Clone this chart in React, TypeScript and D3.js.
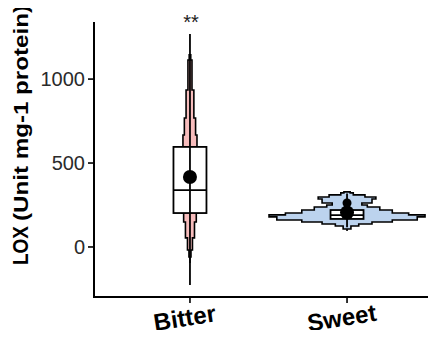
import React, { useEffect, useRef } from "react";
import * as d3 from "d3";

// groups on the x axis
const groups = ["Bitter", "Sweet"];
const fills = ["#f7bcbc", "#bcd3ee"];

// box summaries (LOX, Unit mg-1 protein)
const whiskerLow = [-226, 118];
const whiskerHigh = [1268, 318];
const q1 = [202, 167];
const median = [339, 190];
const q3 = [596, 220];
const means = [417, 205];
const extraPoints = [{ g: "Sweet", v: 262 }];

// violin outlines: value and relative density
const bitterValues = [1144, 1114, 935, 768, 667, 518, 202, 149, 54, -18, -60, -95];
const bitterDensity = [0.005, 0.01, 0.026, 0.05, 0.072, 0.09, 0.103, 0.081, 0.058, 0.032, 0.013, 0];
const sweetValues = [328, 322, 310, 298, 286, 262, 250, 238, 220, 202, 191, 179, 161, 149, 137, 125, 107, 95];
const sweetDensity = [0, 0.04, 0.08, 0.23, 0.37, 0.32, 0.19, 0.26, 0.42, 0.58, 0.79, 1.0, 0.9, 0.58, 0.32, 0.15, 0.05, 0];

const yTicks = [0, 500, 1000];

const App: React.FC = () => {
  const ref = useRef<HTMLDivElement>(null);

  useEffect(() => {
    const container = ref.current;
    if (!container) return;
    d3.select(container).selectAll("*").remove();

    const width = 436;
    const height = 338;
    const font = "'Liberation Sans', Arial, sans-serif";

    const svg = d3
      .select(container)
      .append("svg")
      .attr("width", width)
      .attr("height", height)
      .style("display", "block")
      .style("background", "#fff");

    const axisX = 94;
    const axisY = 297;

    const y = d3.scaleLinear().domain([-298, 1340]).range([297, 22]);
    const x = d3.scalePoint<string>().domain(groups).range([94, 443]).padding(0.611);
    const w = d3.scaleLinear().domain([0, 1]).range([0, 78]);

    // violins
    const violins = [
      { g: "Bitter", values: bitterValues, dens: bitterDensity },
      { g: "Sweet", values: sweetValues, dens: sweetDensity },
    ];
    violins.forEach((vl, i) => {
      const pts = vl.values.map((v, k) => ({ v, d: vl.dens[k] }));
      const cx = x(vl.g) || 0;
      const area = d3
        .area<{ v: number; d: number }>()
        .y((d) => y(d.v))
        .x0((d) => cx - w(d.d))
        .x1((d) => cx + w(d.d))
        .curve(d3.curveStepAfter);
      svg
        .append("path")
        .datum(pts)
        .attr("d", area)
        .attr("fill", fills[i])
        .attr("stroke", "#000")
        .attr("stroke-width", 1.6)
        .attr("stroke-linejoin", "miter");
    });

    // boxes
    const boxW = 33;
    groups.forEach((g, i) => {
      const cx = x(g) || 0;
      svg
        .append("rect")
        .attr("x", cx - boxW / 2)
        .attr("y", y(q3[i]))
        .attr("width", boxW)
        .attr("height", y(q1[i]) - y(q3[i]))
        .attr("fill", "#fff")
        .attr("stroke", "#000")
        .attr("stroke-width", 1.8);
      svg
        .append("line")
        .attr("x1", cx)
        .attr("x2", cx)
        .attr("y1", y(whiskerHigh[i]))
        .attr("y2", y(whiskerLow[i]))
        .attr("stroke", "#000")
        .attr("stroke-width", 1.8);
      svg
        .append("line")
        .attr("x1", cx - boxW / 2)
        .attr("x2", cx + boxW / 2)
        .attr("y1", y(median[i]))
        .attr("y2", y(median[i]))
        .attr("stroke", "#000")
        .attr("stroke-width", 1.8);
      svg
        .append("circle")
        .attr("cx", cx)
        .attr("cy", y(means[i]))
        .attr("r", 7)
        .attr("fill", "#000");
    });

    extraPoints.forEach((p) => {
      svg
        .append("circle")
        .attr("cx", x(p.g) || 0)
        .attr("cy", y(p.v))
        .attr("r", 4.5)
        .attr("fill", "#000");
    });

    // significance
    svg
      .append("text")
      .attr("x", (x("Bitter") || 0) + 1)
      .attr("y", 29)
      .attr("text-anchor", "middle")
      .style("font-family", font)
      .style("font-size", "20px")
      .attr("fill", "#222")
      .text("**");

    // axes
    svg
      .append("line")
      .attr("x1", axisX)
      .attr("x2", axisX)
      .attr("y1", 22)
      .attr("y2", axisY)
      .attr("stroke", "#000")
      .attr("stroke-width", 2);
    svg
      .append("line")
      .attr("x1", axisX - 1)
      .attr("x2", width)
      .attr("y1", axisY)
      .attr("y2", axisY)
      .attr("stroke", "#000")
      .attr("stroke-width", 2);

    yTicks.forEach((t) => {
      svg
        .append("line")
        .attr("x1", axisX - 6)
        .attr("x2", axisX)
        .attr("y1", y(t))
        .attr("y2", y(t))
        .attr("stroke", "#000")
        .attr("stroke-width", 1.6);
      svg
        .append("text")
        .attr("x", axisX - 9)
        .attr("y", y(t))
        .attr("dy", "0.36em")
        .attr("text-anchor", "end")
        .style("font-family", font)
        .style("font-size", "20px")
        .attr("fill", "#2a2a2a")
        .text(d3.format("d")(t));
    });

    groups.forEach((g) => {
      const cx = x(g) || 0;
      svg
        .append("line")
        .attr("x1", cx)
        .attr("x2", cx)
        .attr("y1", axisY)
        .attr("y2", axisY + 6)
        .attr("stroke", "#000")
        .attr("stroke-width", 1.6);
      svg
        .append("text")
        .attr("transform", `translate(${cx - 4},${axisY + 29}) rotate(-9)`)
        .attr("text-anchor", "middle")
        .style("font-family", font)
        .style("font-size", "24px")
        .style("font-weight", "bold")
        .attr("fill", "#000")
        .text(g);
    });

    // y title
    svg
      .append("text")
      .attr("transform", "translate(28,265) rotate(-90)")
      .style("font-family", font)
      .style("font-size", "22px")
      .style("font-weight", "bold")
      .attr("textLength", 39)
      .attr("lengthAdjust", "spacingAndGlyphs")
      .text("LOX");
    svg
      .append("text")
      .attr("transform", "translate(28,221) rotate(-90)")
      .style("font-family", font)
      .style("font-size", "20.5px")
      .style("font-weight", "bold")
      .attr("textLength", 216)
      .attr("lengthAdjust", "spacingAndGlyphs")
      .text("(Unit mg-1 protein)");
  }, []);

  return <div ref={ref} style={{ margin: -8 }}></div>;
};

export default App;
